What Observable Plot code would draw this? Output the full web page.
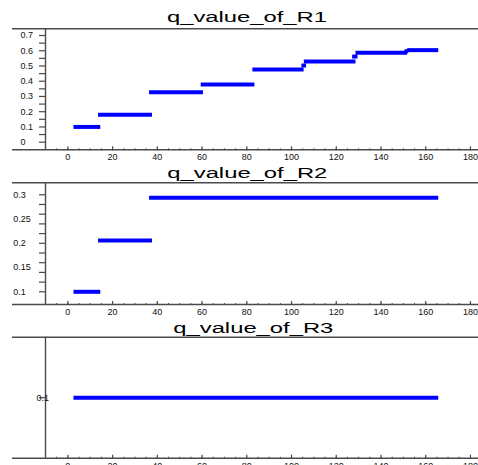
<!DOCTYPE html>
<html>
<head>
<meta charset="utf-8">
<script src="https://cdn.jsdelivr.net/npm/d3@7"></script>
<script src="https://cdn.jsdelivr.net/npm/@observablehq/plot@0.6"></script>
<style>
  html, body { margin: 0; padding: 0; background: #ffffff; }
  #chart svg { display: block; }
</style>
</head>
<body>
<div id="chart"></div>
<script>
// ---- Data ----
const xTickLabels = [0, 20, 40, 60, 80, 100, 120, 140, 160, 180];

// R1 step segments
const r1Start = [2.5, 13.5, 36.3, 59.4, 82.5, 104.4, 105.5, 127.1, 128.6, 150.5, 151.7];
const r1End   = [14.5, 37.6, 60.4, 83.4, 105.4, 106.5, 128.6, 129.5, 151.7, 152.2, 165.6];
const r1Value = [0.100, 0.180, 0.328, 0.379, 0.477, 0.503, 0.530, 0.562, 0.587, 0.597, 0.604];
const r1TickLabels = [0, 0.1, 0.2, 0.3, 0.4, 0.5, 0.6, 0.7];
const r1Ticks = [0, 0.05, 0.1, 0.15, 0.2, 0.25, 0.3, 0.35, 0.4, 0.45, 0.5, 0.55, 0.6, 0.65, 0.7];

// R2 step segments
const r2Start = [2.5, 13.5, 36.3];
const r2End   = [14.5, 37.6, 165.6];
const r2Value = [0.100, 0.206, 0.294];
const r2TickLabels = [0.1, 0.15, 0.2, 0.25, 0.3];
const r2Ticks = [0.1, 0.12, 0.14, 0.16, 0.18, 0.2, 0.22, 0.24, 0.26, 0.28, 0.3];

// R3 (constant)
const r3Start = [2.5];
const r3End   = [165.6];
const r3Value = [0.1];
const r3TickLabels = [0.1];
const r3Ticks = [0.1];

const titles = ["q_value_of_R1", "q_value_of_R2", "q_value_of_R3"];

// ---- Layout ----
const W = 478;
const ML = 45;
const xDomain = [-10, 183.6];
const kx = (W - ML) / (xDomain[1] - xDomain[0]);
const xLeftEdge = xDomain[0] - (ML - 12) / kx; // border lines start at pixel 12
const AXIS = "#4a4a4a";
const FONT = "Liberation Sans, Arial, Helvetica, sans-serif";

function segs(s, e, v) { return s.map((d, i) => ({x1: d, x2: e[i], y: v[i]})); }

function panel(o) {
  const data = segs(o.start, o.end, o.value);
  const svg = Plot.plot({
    width: W,
    height: o.height,
    marginLeft: ML,
    marginRight: 0,
    marginTop: o.marginTop,
    marginBottom: o.marginBottom,
    style: {fontFamily: FONT, fontSize: "9px", color: "#111", background: "#ffffff"},
    x: {domain: xDomain, label: null},
    y: {domain: o.yDomain, label: null},
    marks: [
      // top and bottom border lines (extend left of the y axis)
      Plot.ruleY([o.yDomain[1], o.yDomain[0]], {x1: xLeftEdge, x2: xDomain[1], stroke: AXIS, strokeWidth: 1.4}),
      // y axis line
      Plot.ruleX([xDomain[0]], {stroke: AXIS, strokeWidth: 1.4}),
      // y ticks
      Plot.axisY({ticks: o.yTicks, tickSize: 6, text: null, label: null, stroke: AXIS, strokeWidth: 1.2}),
      Plot.axisY({ticks: o.yLabels, tickSize: 0, tickPadding: ML - o.labelStart, textAnchor: "start", label: null,
                  tickFormat: d => String(+d.toFixed(3)), fill: "#111", fontSize: 9}),
      // x ticks pointing up into the plot
      Plot.axisX({anchor: "top", frameAnchor: "bottom", ticks: d3.range(-5, 184, 5), tickSize: 2, text: null, label: null, stroke: AXIS}),
      Plot.axisX({anchor: "top", frameAnchor: "bottom", ticks: xTickLabels, tickSize: 4, text: null, label: null, stroke: AXIS, strokeWidth: 1.2}),
      Plot.axisX({anchor: "bottom", ticks: xTickLabels, tickSize: 0, tickPadding: 4, label: null, fill: "#111", fontSize: 9}),
      // data
      Plot.link(data, {x1: "x1", x2: "x2", y1: "y", y2: "y", stroke: "#0000ff", strokeWidth: 4}),
      // title
      Plot.text([o.title], {frameAnchor: "top", lineAnchor: "bottom", dx: o.titleDx, dy: o.titleDy,
                            fontSize: 14, fill: "#000"})
    ]
  });
  d3.select(svg).selectAll("text").filter(function() { return this.textContent === o.title; })
    .attr("textLength", 160).attr("lengthAdjust", "spacingAndGlyphs");
  return svg;
}

const chart = document.getElementById("chart");
chart.append(panel({
  title: titles[0], start: r1Start, end: r1End, value: r1Value,
  yDomain: [-0.05, 0.744], yTicks: r1Ticks, yLabels: r1TickLabels, labelStart: 20,
  height: 165, marginTop: 28.3, marginBottom: 15.7, titleDx: -15, titleDy: -6.6
}));
chart.append(panel({
  title: titles[1], start: r2Start, end: r2End, value: r2Value,
  yDomain: [0.0738, 0.3247], yTicks: r2Ticks, yLabels: r2TickLabels, labelStart: 12.7,
  height: 156, marginTop: 17.3, marginBottom: 17, titleDx: -14.7, titleDy: -5
}));
chart.append(panel({
  title: titles[2], start: r3Start, end: r3End, value: r3Value,
  yDomain: [0.05, 0.15], yTicks: r3Ticks, yLabels: r3TickLabels, labelStart: 36,
  height: 144, marginTop: 15.7, marginBottom: 7.3, titleDx: -8.7, titleDy: -4
}));
</script>
</body>
</html>
